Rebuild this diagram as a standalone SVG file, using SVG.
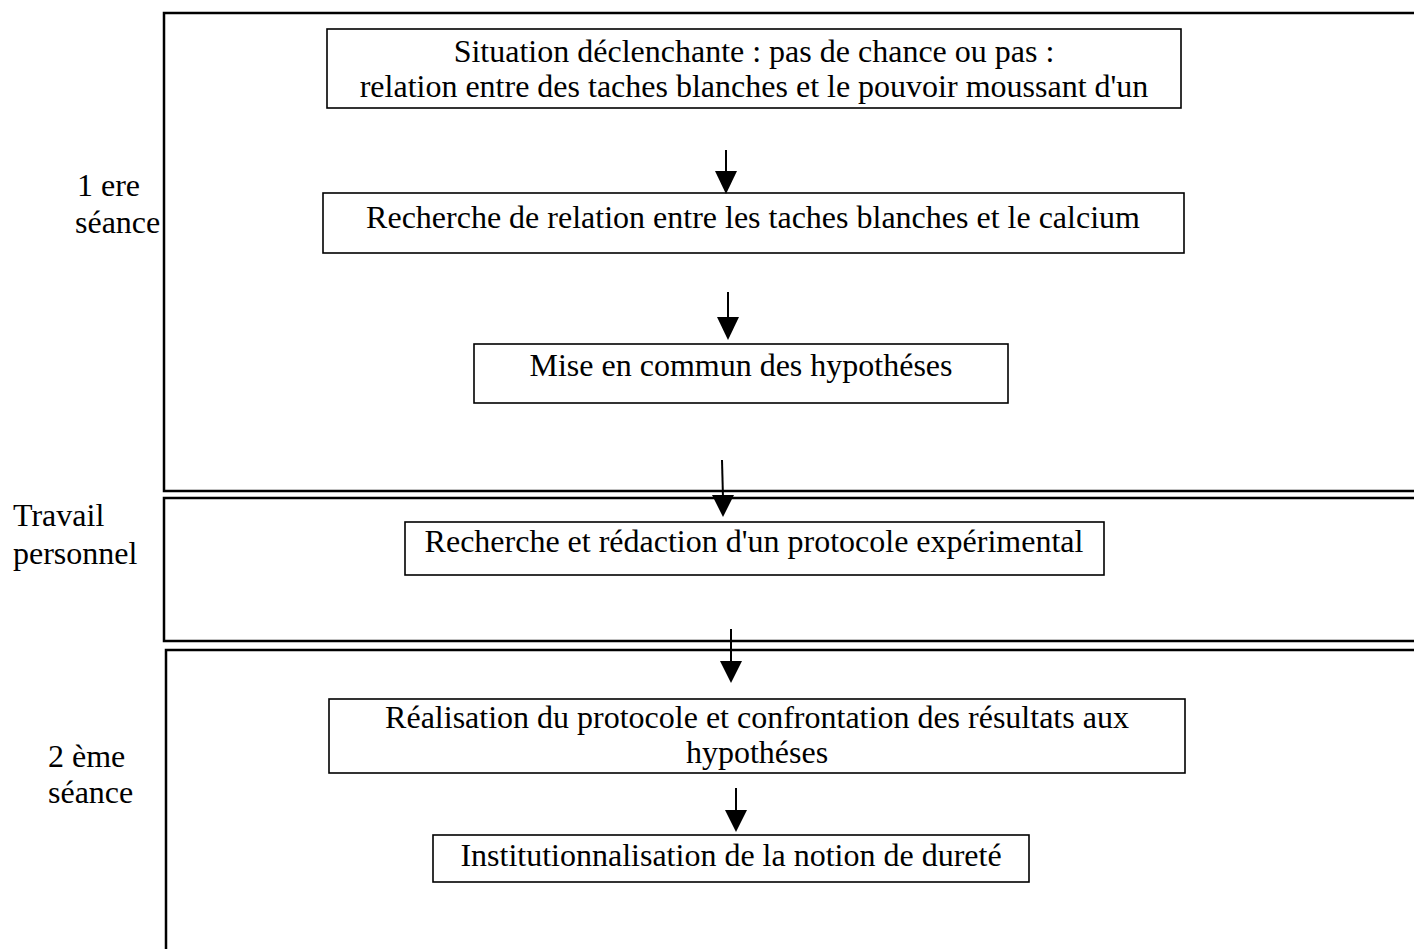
<svg xmlns="http://www.w3.org/2000/svg" width="1414" height="949" viewBox="0 0 1414 949">
<style>
  text { font-family: "Liberation Serif", "Times New Roman", serif; font-size: 32px; fill: #000; }
  .c { text-anchor: middle; }
  .panel { fill: none; stroke: #000; stroke-width: 2.5; }
  .box { fill: #fff; stroke: #000; stroke-width: 1.6; }
  .conn line { stroke: #000; stroke-width: 2; }
  .conn polygon { fill: #000; }
</style>
<g id="panels">
  <path class="panel" d="M1414,13 H164 V491 H1414"/>
  <path class="panel" d="M1414,498 H164 V641 H1414"/>
  <path class="panel" d="M1414,650 H166 V949"/>
</g>
<g id="labels">
  <text x="77" y="196">1 ere</text>
  <text x="75" y="233">séance</text>
  <text x="13" y="526">Travail</text>
  <text x="13" y="564">personnel</text>
  <text x="48" y="767">2 ème</text>
  <text x="48" y="803">séance</text>
</g>
<g id="n1">
  <rect class="box" x="327" y="29" width="854" height="79"/>
  <text class="c" x="754" y="62">Situation déclenchante : pas de chance ou pas :</text>
  <text class="c" x="754" y="97"> relation entre des taches blanches et le pouvoir moussant d'un</text>
</g>
<g id="n2">
  <rect class="box" x="323" y="193" width="861" height="60"/>
  <text class="c" x="753" y="228">Recherche de relation entre les taches blanches et le calcium</text>
</g>
<g id="n3">
  <rect class="box" x="474" y="344" width="534" height="59"/>
  <text class="c" x="741" y="376">Mise en commun des hypothéses</text>
</g>
<g id="n4">
  <rect class="box" x="405" y="522" width="699" height="53"/>
  <text class="c" x="754" y="552">Recherche et rédaction d'un protocole expérimental</text>
</g>
<g id="n5">
  <rect class="box" x="329" y="699" width="856" height="74"/>
  <text class="c" x="757" y="728">Réalisation du protocole et confrontation des résultats aux</text>
  <text class="c" x="757" y="763">hypothéses</text>
</g>
<g id="n6">
  <rect class="box" x="433" y="835" width="596" height="47"/>
  <text class="c" x="731" y="866">Institutionnalisation de la notion de dureté</text>
</g>
<g id="connectors" class="conn">
  <line x1="726" y1="150" x2="726" y2="175"/>
  <polygon points="715,171 737,171 726,194"/>
  <line x1="728" y1="292" x2="728" y2="320"/>
  <polygon points="717,317 739,317 728,340"/>
  <line x1="722" y1="460" x2="723" y2="498"/>
  <polygon points="712,495 734,495 723,517"/>
  <line x1="731" y1="629" x2="731" y2="664"/>
  <polygon points="720,661 742,661 731,683"/>
  <line x1="736" y1="788" x2="736" y2="813"/>
  <polygon points="725,810 747,810 736,832"/>
</g>
</svg>
